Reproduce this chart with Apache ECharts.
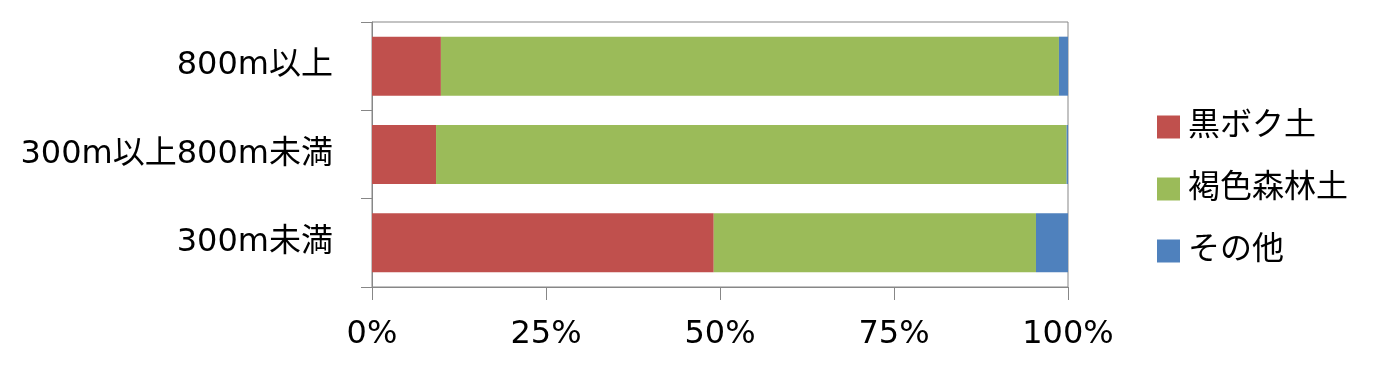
<!DOCTYPE html>
<html>
<head>
<meta charset="utf-8">
<script src="https://cdn.jsdelivr.net/npm/echarts@6/dist/echarts.min.js"></script>
<style>
  html, body { margin: 0; padding: 0; background: #fff; }
  #main { width: 1376px; height: 375px; }
</style>
</head>
<body>
<div id="main"></div>
<script>
var myChart = echarts.init(document.getElementById('main'));

// 下から順 (カテゴリ軸は下から並ぶ)
const categories = ['300m未満', '300m以上800m未満', '800m以上'];
const kuroboku = [49.1, 9.2, 9.9];   // 黒ボク土
const kasshoku = [46.3, 90.6, 88.8]; // 褐色森林土
const sonota = [4.6, 0.2, 1.3];      // その他
const xTicks = [0, 25, 50, 75, 100];

const font = '"DejaVu Sans", "Noto Sans CJK JP", sans-serif';
const gray = '#878787';

function bar(name, data, color) {
    return {
        name: name,
        type: 'bar',
        stack: 'all',
        data: data,
        barWidth: 59,
        itemStyle: { color: color },
        emphasis: { disabled: true }
    };
}

option = {
    animation: false,
    textStyle: { fontFamily: font },
    grid: {
        left: 372,
        right: 308,
        top: 22,
        bottom: 88,
        show: true,
        borderColor: gray,
        borderWidth: 1
    },
    legend: {
        orient: 'vertical',
        left: 1152,
        top: 106,
        itemWidth: 23,
        itemHeight: 23,
        itemGap: 30,
        icon: 'rect',
        textStyle: { fontSize: 32, color: '#000', fontFamily: font, padding: [0, 0, 0, 3] },
        data: ['黒ボク土', '褐色森林土', 'その他']
    },
    xAxis: {
        type: 'value',
        min: xTicks[0],
        max: xTicks[xTicks.length - 1],
        interval: 25,
        axisLine: { show: true, lineStyle: { color: gray } },
        axisTick: { show: true, length: 13, lineStyle: { color: gray } },
        splitLine: { show: false },
        axisLabel: {
            formatter: '{value}%',
            fontSize: 32,
            color: '#000',
            fontFamily: font,
            margin: 32
        }
    },
    yAxis: {
        type: 'category',
        data: categories,
        axisLine: { show: true, lineStyle: { color: gray } },
        axisTick: { show: true, length: 11, lineStyle: { color: gray } },
        axisLabel: {
            fontSize: 32,
            color: '#000',
            fontFamily: font,
            margin: 39,
            padding: [0, 0, 10, 0]
        }
    },
    series: [
        bar('黒ボク土', kuroboku, '#C0504D'),
        bar('褐色森林土', kasshoku, '#9BBB59'),
        bar('その他', sonota, '#4F81BD')
    ]
};

myChart.setOption(option);
</script>
</body>
</html>
